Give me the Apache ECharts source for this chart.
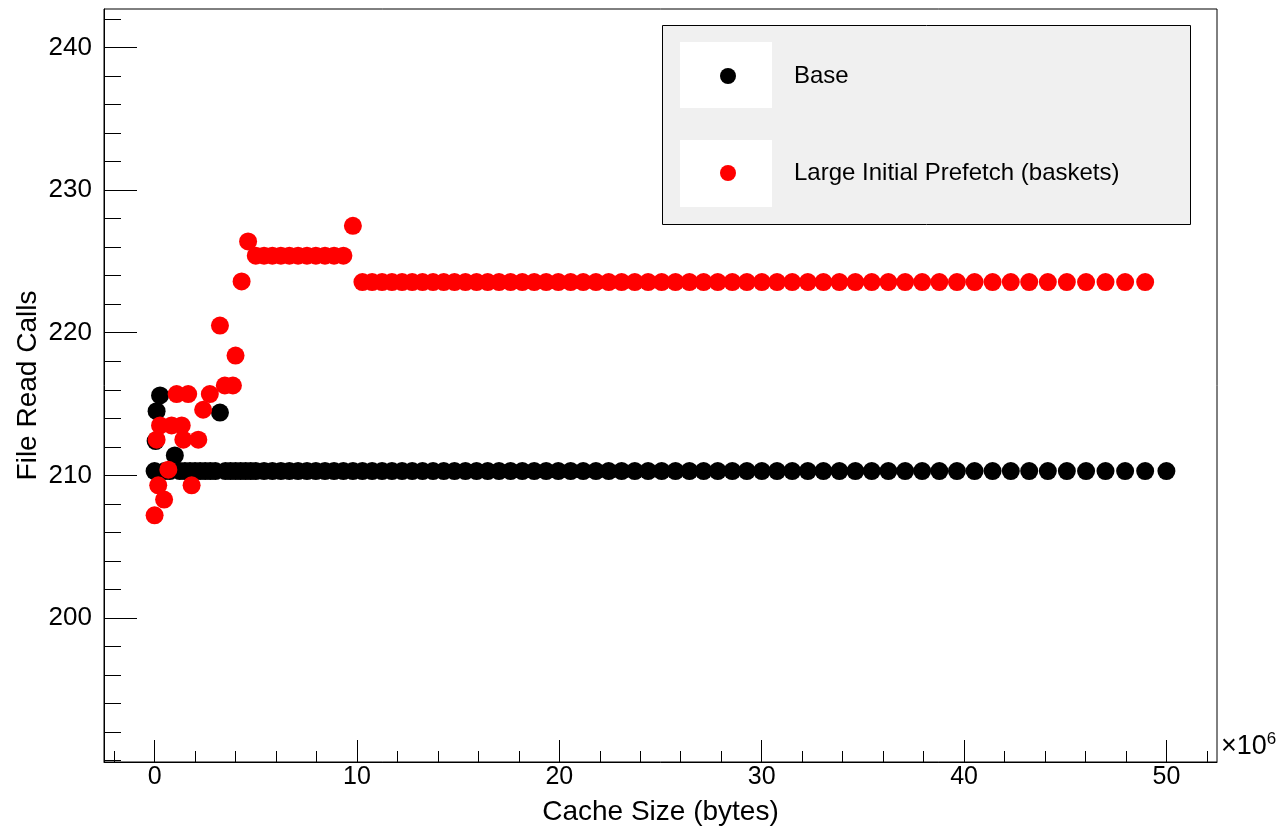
<!DOCTYPE html>
<html>
<head>
<meta charset="utf-8">
<script src="https://cdn.jsdelivr.net/npm/echarts@6/dist/echarts.min.js"></script>
<style>
html, body { margin: 0; padding: 0; background: #fff; }
#chart { width: 1281px; height: 830px; }
</style>
</head>
<body>
<div id="chart"></div>
<script>
// cache sizes (x10^6 bytes) for the dense start of each run
var baseEarlyX = [0, 0.05, 0.1, 0.27, 0.5, 0.75, 1.0, 1.25, 1.5, 1.75, 2.0, 2.25, 2.5, 2.75, 3.0, 3.23, 3.5, 3.75, 4.0, 4.25, 4.5, 4.75];
var baseEarlyY = [210.3, 212.4, 214.5, 215.6, 210.3, 210.3, 211.4, 210.3, 210.3, 210.3, 210.3, 210.3, 210.3, 210.3, 210.3, 214.4, 210.3, 210.3, 210.3, 210.3, 210.3, 210.3];

var prefetchEarlyX = [0, 0.1, 0.18, 0.27, 0.47, 0.68, 0.84, 1.09, 1.34, 1.42, 1.66, 1.83, 2.16, 2.4, 2.73, 3.23, 3.47, 3.87, 4.0, 4.3, 4.62];
var prefetchEarlyY = [207.2, 212.5, 209.3, 213.5, 208.3, 210.4, 213.5, 215.7, 213.5, 212.5, 215.7, 209.3, 212.5, 214.6, 215.7, 220.5, 216.3, 216.3, 218.4, 223.6, 226.4];

// shared cache sizes from 5e6 bytes on
var cacheSizes = [5.00, 5.41, 5.82, 6.24, 6.66, 7.09, 7.53, 7.97, 8.42, 8.87,
    9.33, 9.80, 10.27, 10.75, 11.24, 11.73, 12.23, 12.73, 13.24, 13.76,
    14.29, 14.82, 15.36, 15.91, 16.46, 17.02, 17.59, 18.17, 18.76, 19.35,
    19.95, 20.56, 21.18, 21.81, 22.44, 23.08, 23.73, 24.39, 25.06, 25.74,
    26.43, 27.13, 27.83, 28.55, 29.27, 30.01, 30.76, 31.51, 32.28, 33.05,
    33.84, 34.63, 35.44, 36.26, 37.09, 37.93, 38.78, 39.65, 40.52, 41.41,
    42.31, 43.22, 44.14, 45.08, 46.03, 46.99, 47.96, 48.95, 50.00];

var baseCalls = [210.3, 210.3, 210.3, 210.3, 210.3, 210.3, 210.3, 210.3, 210.3, 210.3,
    210.3, 210.3, 210.3, 210.3, 210.3, 210.3, 210.3, 210.3, 210.3, 210.3,
    210.3, 210.3, 210.3, 210.3, 210.3, 210.3, 210.3, 210.3, 210.3, 210.3,
    210.3, 210.3, 210.3, 210.3, 210.3, 210.3, 210.3, 210.3, 210.3, 210.3,
    210.3, 210.3, 210.3, 210.3, 210.3, 210.3, 210.3, 210.3, 210.3, 210.3,
    210.3, 210.3, 210.3, 210.3, 210.3, 210.3, 210.3, 210.3, 210.3, 210.3,
    210.3, 210.3, 210.3, 210.3, 210.3, 210.3, 210.3, 210.3, 210.3];

var prefetchCalls = [225.4, 225.4, 225.4, 225.4, 225.4, 225.4, 225.4, 225.4, 225.4, 225.4,
    225.4, 227.5, 223.55, 223.55, 223.55, 223.55, 223.55, 223.55, 223.55, 223.55,
    223.55, 223.55, 223.55, 223.55, 223.55, 223.55, 223.55, 223.55, 223.55, 223.55,
    223.55, 223.55, 223.55, 223.55, 223.55, 223.55, 223.55, 223.55, 223.55, 223.55,
    223.55, 223.55, 223.55, 223.55, 223.55, 223.55, 223.55, 223.55, 223.55, 223.55,
    223.55, 223.55, 223.55, 223.55, 223.55, 223.55, 223.55, 223.55, 223.55, 223.55,
    223.55, 223.55, 223.55, 223.55, 223.55, 223.55, 223.55, 223.55];

var xMajorTicks = [0, 10, 20, 30, 40, 50];
var xMinorTicks = [-2, 2, 4, 6, 8, 12, 14, 16, 18, 22, 24, 26, 28, 32, 34, 36, 38, 42, 44, 46, 48, 52];
var yMajorTicks = [200, 210, 220, 230, 240];
var yMinorTicks = [190, 192, 194, 196, 198, 202, 204, 206, 208, 212, 214, 216, 218,
    222, 224, 226, 228, 232, 234, 236, 238, 242];

var seriesNames = ['Base', 'Large Initial Prefetch (baskets)'];

function pairs(xs, ys) {
    var out = [];
    for (var i = 0; i < xs.length && i < ys.length; i++) {
        out.push([xs[i], ys[i]]);
    }
    return out;
}

var baseData = pairs(baseEarlyX, baseEarlyY).concat(pairs(cacheSizes, baseCalls));
var prefetchData = pairs(prefetchEarlyX, prefetchEarlyY).concat(pairs(cacheSizes, prefetchCalls));

var font = 'Liberation Sans, Arial, Helvetica, sans-serif';
var myChart = echarts.init(document.getElementById('chart'), null, { renderer: 'canvas' });

var option = {
    backgroundColor: '#fff',
    animation: false,
    textStyle: { fontFamily: font },
    grid: {
        left: 104, right: 64, top: 9, bottom: 68,
        outerBoundsMode: 'none',
        show: true, borderColor: '#000', borderWidth: 1, backgroundColor: '#fff'
    },
    xAxis: [{
        type: 'value',
        min: -2.5, max: 52.5,
        position: 'bottom',
        name: 'Cache Size (bytes)',
        nameLocation: 'middle',
        nameGap: 36,
        nameTextStyle: { fontSize: 28, color: '#000', fontFamily: font },
        splitLine: { show: false },
        axisLine: { show: true, onZero: false, lineStyle: { color: '#000', width: 1 } },
        axisTick: { show: true, inside: true, length: 22, customValues: xMajorTicks, lineStyle: { color: '#000' } },
        axisLabel: { customValues: xMajorTicks, margin: 3, fontSize: 25, color: '#000', fontFamily: font }
    }, {
        type: 'value',
        min: -2.5, max: 52.5,
        position: 'bottom',
        name: '{a|×10}{b|6}',
        nameLocation: 'end',
        nameGap: 4,
        nameTextStyle: {
            verticalAlign: 'bottom',
            rich: {
                a: { fontSize: 27, color: '#000', fontFamily: font },
                b: { fontSize: 17, color: '#000', fontFamily: font, padding: [0, 0, 14, 0] }
            }
        },
        splitLine: { show: false },
        axisLine: { show: false, onZero: false },
        axisTick: { show: true, inside: true, length: 11, customValues: xMinorTicks, lineStyle: { color: '#000' } },
        axisLabel: { show: false }
    }],
    yAxis: [{
        type: 'value',
        min: 189.9, max: 242.7,
        position: 'left',
        name: 'File Read Calls',
        nameLocation: 'middle',
        nameGap: 62,
        nameMoveOverlap: false,
        nameTextStyle: { fontSize: 28, color: '#000', fontFamily: font },
        splitLine: { show: false },
        axisLine: { show: true, onZero: false, lineStyle: { color: '#000', width: 1 } },
        axisTick: { show: true, inside: true, length: 33, customValues: yMajorTicks, lineStyle: { color: '#000' } },
        axisLabel: { customValues: yMajorTicks, margin: 12, fontSize: 26, color: '#000', fontFamily: font }
    }, {
        type: 'value',
        min: 189.9, max: 242.7,
        position: 'left',
        splitLine: { show: false },
        axisLine: { show: false, onZero: false },
        axisTick: { show: true, inside: true, length: 17, customValues: yMinorTicks, lineStyle: { color: '#000' } },
        axisLabel: { show: false }
    }],
    legend: {
        data: seriesNames,
        orient: 'vertical',
        left: 720,
        top: 64,
        padding: 0,
        itemGap: 73,
        itemWidth: 16,
        itemHeight: 16,
        icon: 'circle',
        selectedMode: false,
        textStyle: { fontSize: 24, lineHeight: 24, color: '#000', fontFamily: font, padding: [0, 0, 0, 53] },
        z: 10
    },
    graphic: [
        { type: 'rect', left: 662, top: 25, z: 5, shape: { width: 528, height: 199 }, style: { fill: '#f0f0f0', stroke: '#000', lineWidth: 1 } },
        { type: 'rect', left: 680, top: 42, z: 6, shape: { width: 92, height: 66 }, style: { fill: '#fff' } },
        { type: 'rect', left: 680, top: 140, z: 6, shape: { width: 92, height: 67 }, style: { fill: '#fff' } }
    ],
    series: [{
        name: seriesNames[0],
        type: 'scatter',
        xAxisIndex: 0, yAxisIndex: 0,
        symbol: 'circle',
        symbolSize: 18,
        itemStyle: { color: '#000', opacity: 1 },
        data: baseData
    }, {
        name: seriesNames[1],
        type: 'scatter',
        xAxisIndex: 0, yAxisIndex: 0,
        symbol: 'circle',
        symbolSize: 18,
        itemStyle: { color: '#ff0000', opacity: 1 },
        data: prefetchData
    }]
};

myChart.setOption(option);
</script>
</body>
</html>
